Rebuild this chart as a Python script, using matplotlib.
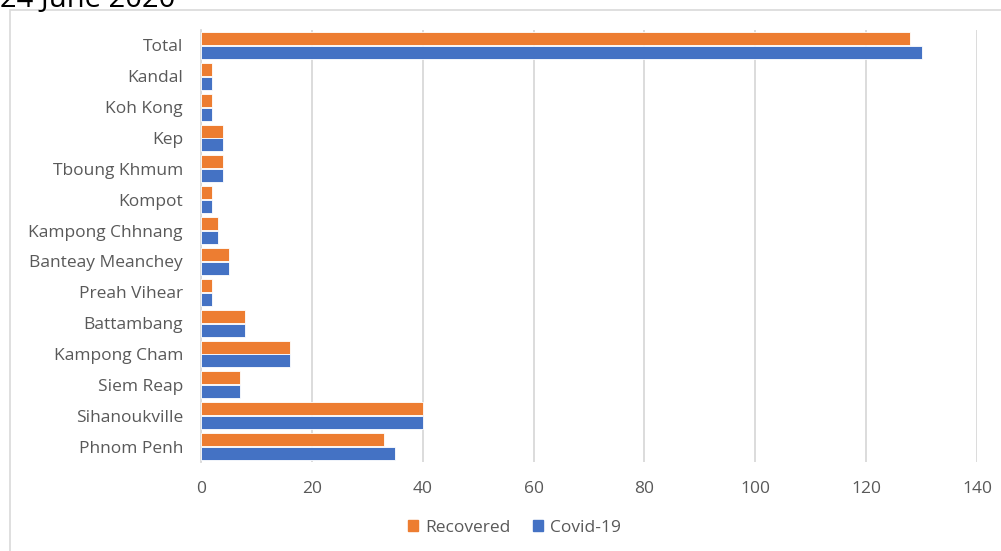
import matplotlib.pyplot as plt
plt.switch_backend('Agg')
import numpy as np
from matplotlib.patches import Rectangle, Patch

plt.rcParams.update({
    'font.family': ['Open Sans', 'DejaVu Sans'],
    'font.size': 12,
})

provinces = ["Phnom Penh", "Sihanoukville", "Siem Reap", "Kampong Cham", "Battambang",
             "Preah Vihear", "Banteay Meanchey", "Kampong Chhnang", "Kompot",
             "Tboung Khmum", "Kep", "Koh Kong", "Kandal", "Total"]
covid = [35, 40, 7, 16, 8, 2, 5, 3, 2, 4, 4, 2, 2, 130]
recovered = [33, 40, 7, 16, 8, 2, 5, 3, 2, 4, 4, 2, 2, 128]
xticks = [0, 20, 40, 60, 80, 100, 120, 140]

orange = "#ED7D31"
blue = "#4472C4"
grey_txt = "#595959"

fig = plt.figure(figsize=(10.01, 5.51), dpi=100)
ax = fig.add_axes([0.2008, 0.1615, 0.7752, 0.7841])

y = np.arange(len(provinces))
h = 0.42
ax.barh(y + 0.225, recovered, height=h, color=orange, edgecolor="white", linewidth=0.6, label="Recovered", zorder=3)
ax.barh(y - 0.225, covid, height=h, color=blue, edgecolor="white", linewidth=0.6, label="Covid-19", zorder=3)

ax.set_xlim(0, 140)
ax.set_ylim(-0.5, len(provinces) - 0.5)
ax.set_xticks(xticks)
ax.set_yticks(y)
ax.set_yticklabels(provinces)
ax.tick_params(axis='both', length=0, colors=grey_txt, labelsize=12.5)
ax.tick_params(axis='x', pad=14)
ax.tick_params(axis='y', pad=13)
ax.grid(axis='x', color="#D9D9D9", linewidth=1.3, zorder=0)
for s in ['top', 'right', 'bottom']:
    ax.spines[s].set_visible(False)
ax.spines['left'].set_color("#D9D9D9")
ax.spines['left'].set_linewidth(1.3)

handles = [Patch(color=orange), Patch(color=blue)]
fig.legend(handles, ["Recovered", "Covid-19"], loc='center', bbox_to_anchor=(0.514, 0.042),
           ncol=2, frameon=False, fontsize=12.5, labelcolor=grey_txt,
           handlelength=0.6, handleheight=0.6, handletextpad=0.4, columnspacing=1.3)

# chart border
fig.patches.append(Rectangle((10 / 1001, -0.05), 1.2, 1 - 10 / 551 + 0.05, transform=fig.transFigure,
                             fill=False, edgecolor="#D9D9D9", linewidth=1.2))
# title, cut off at the top edge as in the original
fig.text(0.0, 1.0, "24 June 2020", fontsize=21, color="black", ha='left', va='center')

fig.savefig("out.png", dpi=100)
